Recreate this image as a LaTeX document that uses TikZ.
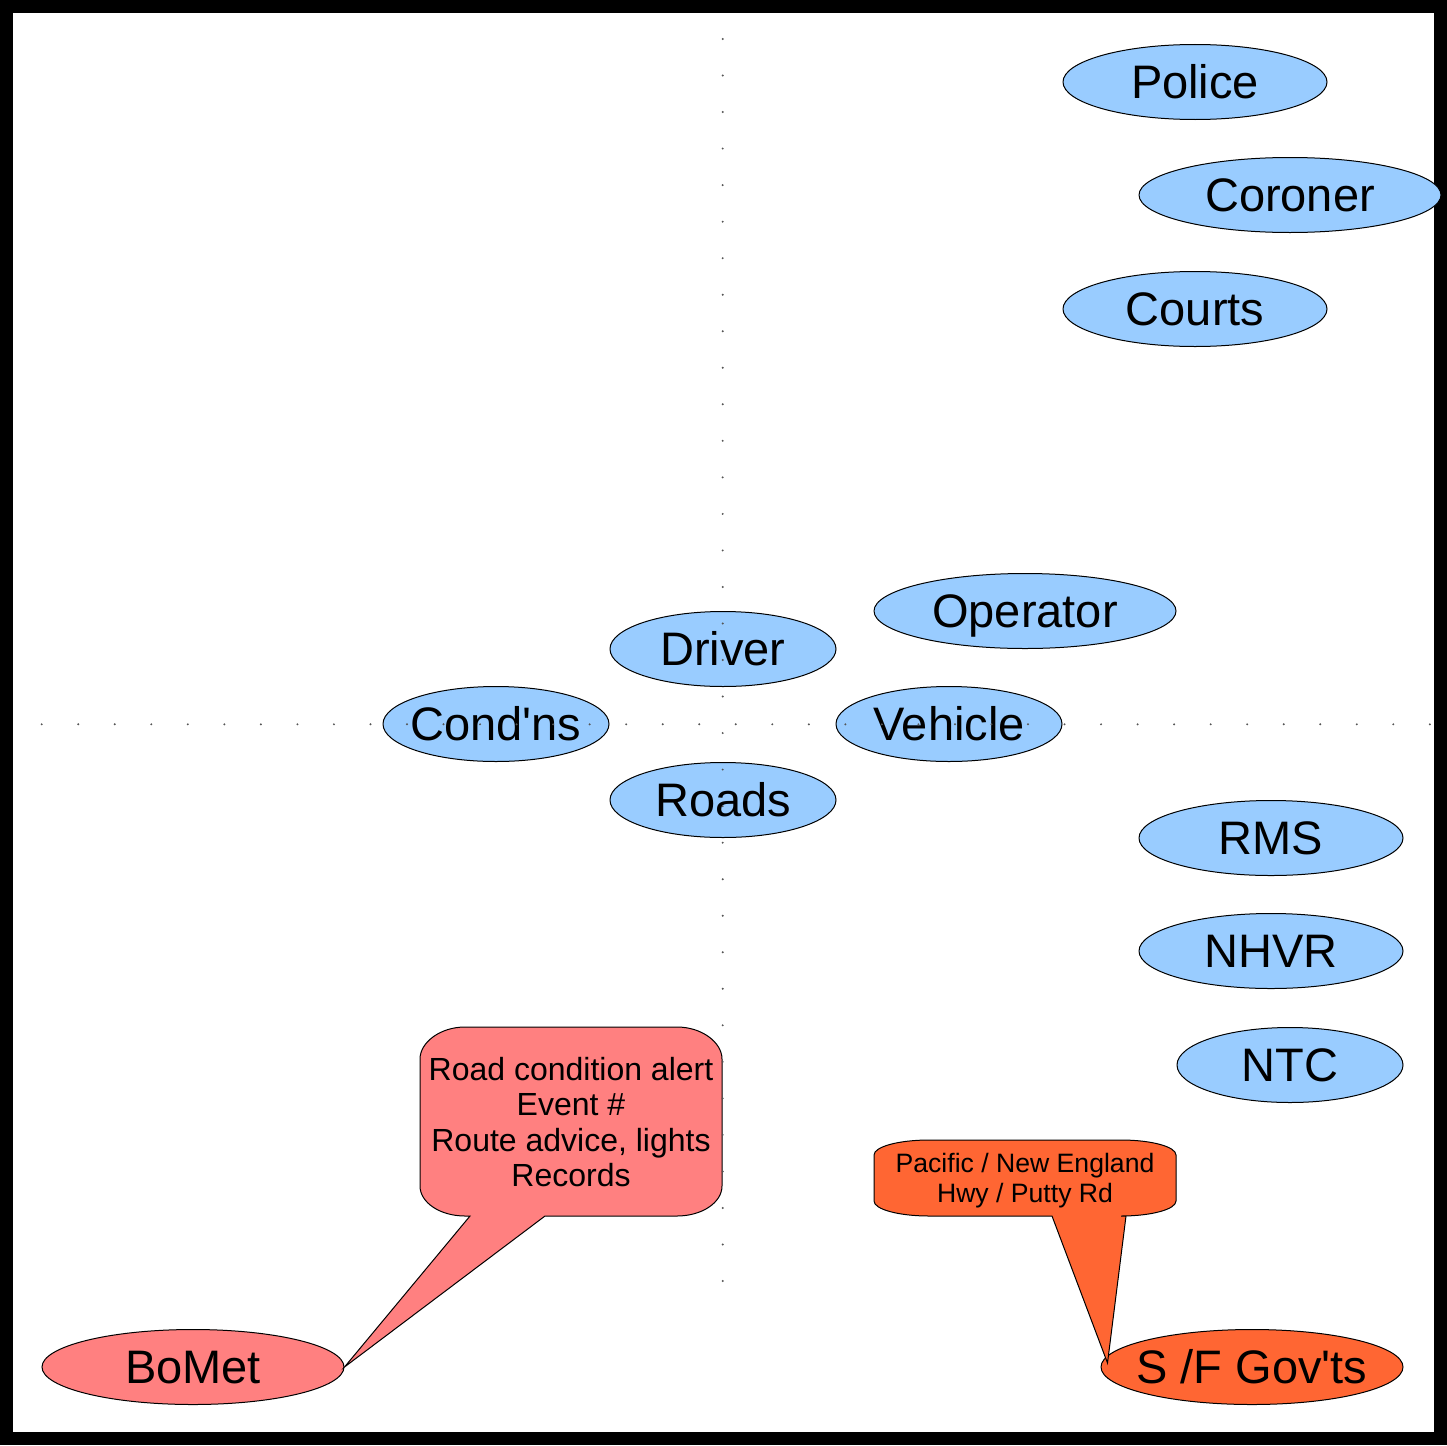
\documentclass[tikz,border=0pt]{standalone}
\usepackage{fontspec}
\setmainfont{Liberation Sans}
\usetikzlibrary{shapes.geometric}
\definecolor{skyblue}{HTML}{99CCFF}
\definecolor{salmon}{HTML}{FF8080}
\definecolor{tangerine}{HTML}{FF6633}
\definecolor{dotgrey}{HTML}{555555}
\tikzset{
  agency/.style={ellipse, draw, line width=1pt, fill=skyblue, inner ysep=0pt,
    inner xsep=-15pt, minimum height=75pt, text height=33.6pt, text depth=0pt,
    font=\fontsize{47}{56}\selectfont},
  bubble/.style={draw, line width=1pt},
  axisdot/.style={fill=dotgrey}
}
\begin{document}
\begin{tikzpicture}[x=1pt,y=-1pt]
\useasboundingbox (0,0) rectangle (1447,1445);
% frame
\draw [line width=13pt] (6.5,6.5) rectangle (1440.5,1438.5);
% agencies
\node [agency, minimum width=264pt] (police) at (1195,82) {Police};
\node [agency, minimum width=302pt] (coroner) at (1290,195) {Coroner};
\node [agency, minimum width=264pt] (courts) at (1195,309) {Courts};
\node [agency, minimum width=302pt] (operator) at (1025,611) {Operator};
\node [agency, minimum width=226pt] (driver) at (723,649) {Driver};
\node [agency, minimum width=226pt] (condns) at (496,724) {Cond\textquotesingle ns};
\node [agency, minimum width=226pt] (vehicle) at (949,724) {Vehicle};
\node [agency, minimum width=226pt] (roads) at (723,800) {Roads};
\node [agency, minimum width=264pt] (rms) at (1271,838) {RMS};
\node [agency, minimum width=264pt] (nhvr) at (1271,951) {NHVR};
\node [agency, minimum width=226pt] (ntc) at (1290,1065) {NTC};
\node [agency, minimum width=302pt, fill=salmon] (bomet) at (193,1367) {BoMet};
\node [agency, minimum width=302pt, fill=tangerine] (sfgov) at (1252,1367) {S /F Gov\textquotesingle ts};
% callouts
\draw [bubble, fill=salmon] (470,1216) -- (bomet.east) -- (545,1216) -- (677,1216)
  .. controls (701.8,1216) and (722,1202.6) .. (722,1186) -- (722,1059)
  .. controls (722,1042.4) and (701.8,1027) .. (677,1027) -- (465,1027)
  .. controls (440.2,1027) and (420,1042.4) .. (420,1059) -- (420,1186)
  .. controls (420,1202.6) and (440.2,1216) .. (465,1216) -- cycle;
\node [align=center, font=\fontsize{32}{35.5}\selectfont] (alert) at (571,1122) {Road condition alert\\Event \#\\Route advice, lights\\Records};
\draw [bubble, fill=tangerine] (1052,1216) -- ([xshift=7pt,yshift=4pt]sfgov.west) -- (1126,1216) -- (1121,1216)
  .. controls (1151.4,1216) and (1176,1209.3) .. (1176,1201) -- (1176,1155)
  .. controls (1176,1146.7) and (1151.4,1140) .. (1121,1140) -- (929,1140)
  .. controls (898.6,1140) and (874,1146.7) .. (874,1155) -- (874,1201)
  .. controls (874,1209.3) and (898.6,1216) .. (929,1216) -- cycle;
\node [align=center, font=\fontsize{26.6}{30}\selectfont] (route) at (1025,1181) {Pacific / New England\\Hwy / Putty Rd};
% dotted axes
\foreach \i in {0,...,34} \fill [axisdot] (722.7,39+36.53*\i) circle (1.1pt);
\foreach \i in {0,...,38} \fill [axisdot] (41.7+36.53*\i,724.3) circle (1.1pt);
\end{tikzpicture}
\end{document}
